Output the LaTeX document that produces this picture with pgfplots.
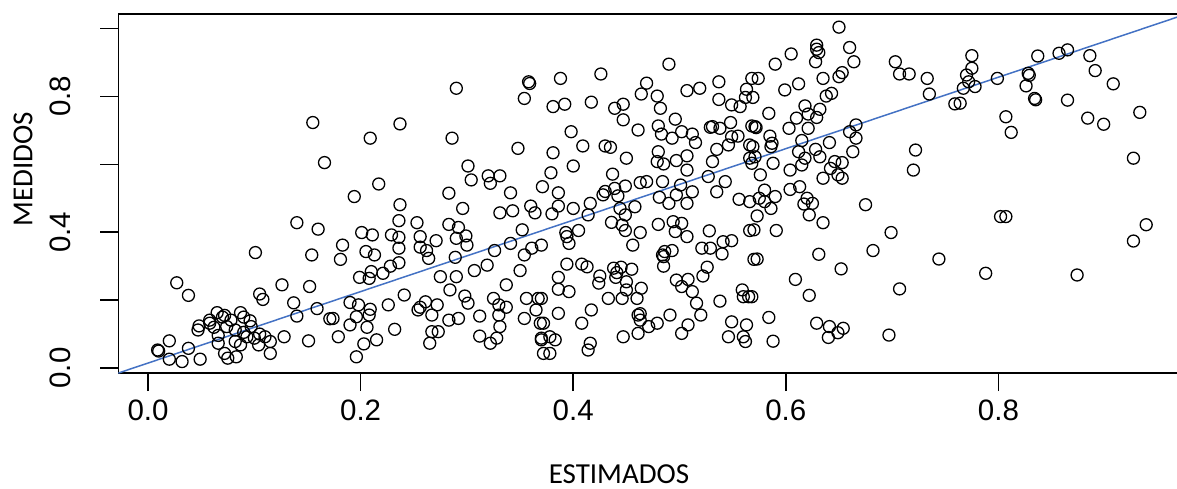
\documentclass[border=0pt]{standalone}
\usepackage{pgfplots}
\pgfplotsset{compat=1.18}
\usepackage{pgfplotstable}
\usepackage{fontspec}
\setmainfont{Liberation Sans}
\newfontfamily\calibri{Carlito}
\definecolor{officeblue}{RGB}{68,114,196}
\pgfplotstableread{
x y
0.155 0.723
0.166 0.605
0.140 0.428
0.160 0.409
0.101 0.340
0.154 0.333
0.027 0.251
0.038 0.214
0.126 0.245
0.152 0.240
0.105 0.218
0.108 0.202
0.137 0.192
0.159 0.175
0.140 0.153
0.171 0.145
0.065 0.163
0.072 0.155
0.087 0.163
0.078 0.141
0.058 0.132
0.048 0.124
0.047 0.112
0.096 0.139
0.097 0.122
0.082 0.112
0.066 0.096
0.093 0.092
0.100 0.088
0.110 0.092
0.115 0.078
0.104 0.068
0.082 0.078
0.066 0.073
0.128 0.092
0.151 0.080
0.020 0.080
0.009 0.053
0.010 0.050
0.038 0.058
0.020 0.026
0.032 0.019
0.049 0.026
0.072 0.043
0.075 0.029
0.083 0.033
0.115 0.043
0.074 0.122
0.058 0.141
0.087 0.068
0.070 0.150
0.090 0.150
0.062 0.120
0.105 0.100
0.090 0.105
0.194 0.505
0.237 0.481
0.296 0.470
0.331 0.457
0.343 0.463
0.360 0.477
0.364 0.457
0.283 0.515
0.341 0.516
0.236 0.434
0.253 0.428
0.283 0.423
0.292 0.414
0.201 0.399
0.211 0.392
0.229 0.392
0.236 0.385
0.256 0.387
0.271 0.375
0.290 0.382
0.299 0.389
0.300 0.362
0.352 0.407
0.183 0.362
0.181 0.320
0.236 0.353
0.256 0.356
0.262 0.346
0.264 0.323
0.205 0.343
0.213 0.333
0.236 0.310
0.228 0.300
0.221 0.279
0.210 0.284
0.199 0.267
0.208 0.264
0.289 0.326
0.307 0.287
0.319 0.303
0.326 0.346
0.341 0.367
0.354 0.333
0.361 0.353
0.350 0.287
0.275 0.269
0.290 0.269
0.337 0.245
0.284 0.230
0.298 0.212
0.301 0.191
0.241 0.215
0.190 0.193
0.198 0.186
0.209 0.173
0.208 0.156
0.196 0.151
0.174 0.146
0.226 0.186
0.256 0.179
0.261 0.195
0.272 0.186
0.267 0.156
0.254 0.171
0.190 0.127
0.206 0.120
0.232 0.114
0.215 0.083
0.179 0.092
0.203 0.071
0.196 0.033
0.283 0.141
0.292 0.146
0.273 0.107
0.267 0.107
0.265 0.073
0.312 0.153
0.325 0.205
0.330 0.186
0.337 0.179
0.330 0.156
0.331 0.122
0.312 0.094
0.322 0.073
0.328 0.088
0.356 0.205
0.367 0.205
0.365 0.171
0.354 0.146
0.369 0.132
0.370 0.088
0.372 0.043
0.386 0.516
0.428 0.510
0.442 0.507
0.481 0.503
0.497 0.510
0.512 0.519
0.535 0.519
0.556 0.497
0.566 0.490
0.490 0.485
0.507 0.485
0.386 0.477
0.400 0.470
0.416 0.485
0.414 0.451
0.380 0.454
0.444 0.470
0.458 0.475
0.449 0.451
0.436 0.429
0.446 0.421
0.449 0.405
0.463 0.399
0.456 0.362
0.480 0.423
0.494 0.431
0.502 0.426
0.496 0.402
0.507 0.387
0.528 0.404
0.521 0.353
0.529 0.353
0.540 0.336
0.541 0.372
0.549 0.375
0.566 0.405
0.570 0.320
0.393 0.399
0.405 0.405
0.394 0.387
0.396 0.367
0.370 0.362
0.486 0.343
0.485 0.328
0.484 0.333
0.493 0.346
0.485 0.300
0.526 0.297
0.522 0.271
0.394 0.306
0.408 0.306
0.413 0.298
0.386 0.267
0.425 0.271
0.438 0.294
0.441 0.281
0.445 0.297
0.455 0.291
0.440 0.267
0.450 0.254
0.424 0.250
0.464 0.235
0.450 0.230
0.386 0.232
0.396 0.225
0.497 0.259
0.508 0.261
0.502 0.240
0.512 0.225
0.516 0.191
0.520 0.156
0.370 0.205
0.433 0.205
0.446 0.205
0.460 0.205
0.386 0.161
0.372 0.132
0.408 0.132
0.417 0.171
0.461 0.156
0.463 0.160
0.463 0.141
0.471 0.122
0.479 0.132
0.461 0.102
0.491 0.156
0.508 0.127
0.502 0.102
0.378 0.092
0.383 0.083
0.370 0.083
0.416 0.073
0.414 0.053
0.447 0.092
0.378 0.043
0.538 0.197
0.549 0.136
0.546 0.092
0.563 0.127
0.560 0.092
0.562 0.078
0.559 0.230
0.560 0.210
0.565 0.210
0.675 0.481
0.699 0.399
0.682 0.346
0.744 0.321
0.631 0.335
0.652 0.292
0.609 0.261
0.622 0.214
0.707 0.233
0.584 0.149
0.629 0.132
0.641 0.122
0.654 0.117
0.649 0.104
0.640 0.090
0.697 0.097
0.588 0.079
0.591 0.405
0.573 0.321
0.586 0.470
0.622 0.451
0.635 0.428
0.617 0.483
0.570 0.407
0.573 0.448
0.568 0.210
0.575 0.500
0.580 0.490
0.590 0.505
0.620 0.500
0.625 0.485
0.807 0.446
0.802 0.446
0.788 0.279
0.874 0.274
0.939 0.422
0.927 0.374
0.775 0.920
0.775 0.883
0.770 0.863
0.772 0.843
0.767 0.824
0.778 0.829
0.799 0.853
0.837 0.919
0.857 0.927
0.865 0.937
0.886 0.920
0.891 0.876
0.908 0.837
0.828 0.868
0.829 0.862
0.826 0.831
0.834 0.794
0.835 0.790
0.865 0.789
0.807 0.740
0.812 0.694
0.884 0.736
0.899 0.718
0.933 0.753
0.927 0.618
0.764 0.780
0.650 1.004
0.605 0.925
0.590 0.895
0.629 0.951
0.629 0.939
0.631 0.929
0.628 0.902
0.660 0.944
0.664 0.902
0.703 0.902
0.707 0.866
0.716 0.866
0.733 0.853
0.735 0.807
0.759 0.778
0.574 0.853
0.599 0.819
0.612 0.837
0.635 0.853
0.650 0.858
0.653 0.870
0.638 0.801
0.643 0.809
0.618 0.772
0.632 0.762
0.621 0.748
0.610 0.736
0.629 0.738
0.603 0.706
0.621 0.706
0.584 0.750
0.569 0.797
0.571 0.711
0.572 0.708
0.585 0.683
0.587 0.662
0.569 0.652
0.615 0.670
0.641 0.664
0.666 0.716
0.660 0.696
0.666 0.677
0.663 0.637
0.612 0.637
0.628 0.644
0.632 0.622
0.618 0.618
0.646 0.608
0.653 0.605
0.604 0.583
0.615 0.598
0.642 0.588
0.649 0.569
0.635 0.559
0.653 0.559
0.722 0.642
0.720 0.583
0.588 0.603
0.576 0.569
0.571 0.622
0.586 0.652
0.613 0.534
0.604 0.526
0.580 0.524
0.568 0.603
0.490 0.895
0.388 0.853
0.426 0.866
0.469 0.839
0.464 0.807
0.479 0.801
0.482 0.765
0.507 0.817
0.519 0.824
0.537 0.843
0.537 0.791
0.563 0.821
0.562 0.797
0.549 0.775
0.557 0.770
0.568 0.853
0.381 0.770
0.392 0.777
0.417 0.783
0.447 0.777
0.439 0.765
0.447 0.731
0.496 0.733
0.461 0.701
0.480 0.713
0.483 0.689
0.493 0.677
0.502 0.696
0.512 0.689
0.515 0.664
0.529 0.709
0.531 0.711
0.538 0.706
0.548 0.723
0.549 0.681
0.555 0.683
0.546 0.657
0.568 0.713
0.398 0.696
0.409 0.654
0.430 0.654
0.435 0.650
0.381 0.634
0.400 0.595
0.450 0.618
0.480 0.637
0.479 0.608
0.485 0.601
0.497 0.611
0.507 0.625
0.507 0.583
0.531 0.608
0.535 0.644
0.566 0.657
0.566 0.618
0.379 0.575
0.437 0.571
0.463 0.546
0.469 0.549
0.484 0.549
0.501 0.539
0.527 0.564
0.543 0.549
0.371 0.534
0.439 0.529
0.449 0.536
0.430 0.520
0.290 0.824
0.358 0.843
0.359 0.838
0.354 0.794
0.237 0.719
0.209 0.677
0.286 0.677
0.348 0.647
0.301 0.595
0.304 0.554
0.320 0.566
0.331 0.566
0.322 0.544
0.217 0.542
}\scatterdata
\begin{document}
\begin{tikzpicture}
\begin{axis}[
  at={(0pt,0pt)}, anchor=south west,
  scale only axis, width=534.25pt, height=179.5pt,
  xmin=-0.0278, xmax=0.9774, ymin=-0.0147, ymax=1.0427,
  xtick={0,0.2,0.4,0.6,0.8}, xticklabels={0.0,0.2,0.4,0.6,0.8},
  ytick={0,0.2,0.4,0.6,0.8,1.0}, yticklabels={0.0,,0.4,,0.8,},
  xtick pos=left, ytick pos=left,
  tick align=outside, major tick length=9pt,
  tick style={black, line width=0.8pt},
  axis line style={black, line width=0.9pt},
  /pgf/number format/assume math mode=true,
  ticklabel style={font=\fontsize{14.75}{16}\selectfont},
  xticklabel style={anchor=center, yshift=-9.5pt},
  yticklabel style={rotate=90, anchor=center, yshift=20pt},
  clip=true,
]
\addplot[only marks, mark=o, mark size=3pt, mark options={draw=black, line width=0.65pt}] table[x=x, y=y] {\scatterdata};
\addplot[color=officeblue, line width=0.75pt, no markers] coordinates {(-0.05,-0.038) (1.0,1.067)};
\end{axis}
\node[font=\calibri\fontsize{14.5}{16}\selectfont] at (250.25pt,-50.5pt) {ESTIMADOS};
\node[rotate=90, font=\calibri\fontsize{14.5}{16}\selectfont] at (-47.75pt,102pt) {MEDIDOS};
\pgfresetboundingbox
\path[use as bounding box] (-59.25pt,-57.5pt) rectangle (529.25pt,186.5pt);
\end{tikzpicture}
\end{document}
